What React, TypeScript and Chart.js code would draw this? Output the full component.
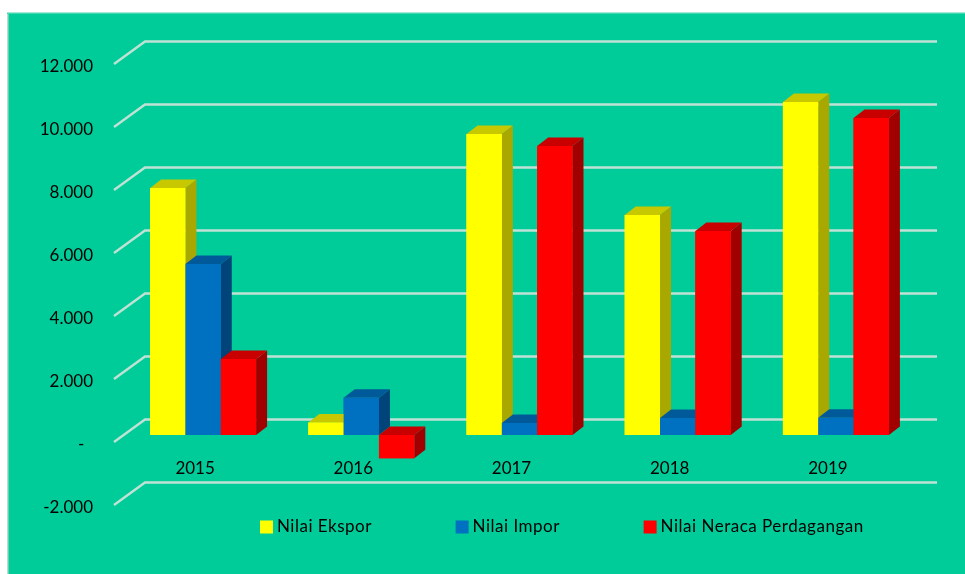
import React, { useEffect, useRef } from "react";
import { Chart, registerables } from "chart.js";

Chart.register(...registerables);

const categories = ["2015", "2016", "2017", "2018", "2019"];
const nilaiEkspor = [7840, 400, 9555, 6985, 10570];
const nilaiImpor = [5430, 1185, 380, 540, 550];
const nilaiNeraca = [2410, -740, 9175, 6475, 10060];
const seriesNames = ["Nilai Ekspor", "Nilai Impor", "Nilai Neraca Perdagangan"];
const frontColors = ["#FFFF00", "#0070C0", "#FF0000"];
const topColors = ["#C8C800", "#005A9A", "#C80000"];
const sideColors = ["#A8A800", "#00447A", "#A00000"];

const FONT = "Lato";
const DEPTH_X = 11;
const DEPTH_Y = 8.5;

const panelPlugin = {
  id: "panel",
  beforeDraw(chart: any) {
    const { ctx } = chart;
    ctx.save();
    ctx.fillStyle = "#00CC99";
    ctx.fillRect(8, 14, 957, 560);
    ctx.fillStyle = "#BFD9D0";
    ctx.fillRect(7, 14, 1.5, 560);
    ctx.fillStyle = "#45D5B0";
    ctx.fillRect(7, 12.5, 958, 1.5);
    ctx.restore();
    const lg = chart.legend;
    lg.left = 264.5 - lg.options.labels.padding;
    lg.right = 2000;
    lg.top = 518.5 - lg.options.labels.padding;
    lg.bottom = 574;
  },
};

const wallPlugin = {
  id: "wall",
  beforeLayout(chart: any) {
    const lg = chart.legend;
    if (lg && !lg.__wrapped) {
      const fit = lg.fit;
      const draw = lg.draw;
      lg.fit = function () {
        this.ctx.letterSpacing = "0.5px";
        fit.call(this);
        this.ctx.letterSpacing = "0px";
        this.height = 0;
      };
      lg.draw = function () {
        this.ctx.letterSpacing = "0.5px";
        draw.call(this);
        this.ctx.letterSpacing = "0px";
      };
      lg.__wrapped = true;
    }
  },
  beforeDatasetsDraw(chart: any) {
    const { ctx, chartArea, scales } = chart;
    ctx.save();
    ctx.strokeStyle = "#BFE2D5";
    ctx.lineWidth = 2.4;
    ctx.lineCap = "butt";
    for (const t of scales.y.ticks) {
      const y = scales.y.getPixelForValue(t.value);
      ctx.beginPath();
      ctx.moveTo(chartArea.left - 10, y + 7);
      ctx.lineTo(chartArea.left + 21, y - 15.5);
      ctx.lineTo(chartArea.right + 22, y - 15.5);
      ctx.stroke();
    }
    ctx.restore();
  },
  afterDatasetsDraw(chart: any) {
    const { ctx } = chart;
    chart.data.datasets.forEach((_: any, i: number) => {
      const meta = chart.getDatasetMeta(i);
      meta.data.forEach((bar: any) => {
        const p = bar.getProps(["x", "y", "base", "width"], true);
        const l = p.x - p.width / 2;
        const r = p.x + p.width / 2;
        const t = Math.min(p.y, p.base);
        const b = Math.max(p.y, p.base);
        ctx.save();
        ctx.fillStyle = sideColors[i];
        ctx.beginPath();
        ctx.moveTo(r, t);
        ctx.lineTo(r + DEPTH_X, t - DEPTH_Y);
        ctx.lineTo(r + DEPTH_X, b - DEPTH_Y);
        ctx.lineTo(r, b);
        ctx.closePath();
        ctx.fill();
        ctx.fillStyle = topColors[i];
        ctx.beginPath();
        ctx.moveTo(l, t);
        ctx.lineTo(l + DEPTH_X, t - DEPTH_Y);
        ctx.lineTo(r + DEPTH_X, t - DEPTH_Y);
        ctx.lineTo(r, t);
        ctx.closePath();
        ctx.fill();
        ctx.restore();
        bar.draw(ctx);
      });
    });
  },
};

export default function App() {
  const ref = useRef<HTMLCanvasElement | null>(null);
  useEffect(() => {
    const chart = new Chart(ref.current as HTMLCanvasElement, {
      type: "bar",
      data: {
        labels: categories,
        datasets: [nilaiEkspor, nilaiImpor, nilaiNeraca].map((values, i) => ({
          label: seriesNames[i],
          data: values,
          backgroundColor: frontColors[i],
          borderColor: frontColors[i],
          borderWidth: 0,
          barPercentage: 1,
          categoryPercentage: 0.67,
        })),
      },
      options: {
        responsive: false,
        animation: false,
        layout: { padding: { left: 0, top: 57, right: 50, bottom: 76 } },
        plugins: {
          tooltip: { enabled: false },
          title: { display: false },
          legend: {
            display: true,
            position: "bottom",
            align: "start",
            labels: {
              usePointStyle: true,
              pointStyle: "rect",
              boxWidth: 4,
              boxHeight: 13,
              padding: 88.2,
              color: "#000000",
              font: { family: FONT, size: 17 },
            },
          },
        },
        scales: {
          x: {
            position: { y: 0 },
            grid: { display: false, drawTicks: false },
            border: { display: false },
            ticks: {
              color: "#000000",
              padding: 23,
              labelOffset: -8,
              maxRotation: 0,
              font: { family: FONT, size: 17 },
            },
            afterFit: (s: any) => {
              s.height = 0;
            },
          },
          y: {
            min: -2000,
            max: 12000,
            grid: { display: false, drawTicks: false },
            border: { display: false },
            ticks: {
              stepSize: 2000,
              color: "#000000",
              padding: 31,
              labelOffset: 9.5,
              font: { family: FONT, size: 17 },
              callback: (v: any) =>
                v === 0 ? "-  " : String(v).replace(/\B(?=(\d{3})+$)/g, "."),
            },
            afterFit: (s: any) => {
              s.width = 124;
            },
          },
        },
      },
      plugins: [panelPlugin, wallPlugin],
    } as any);
    return () => chart.destroy();
  }, []);
  return (
    <div style={{ position: "absolute", left: 0, top: 0, width: 965, height: 574, background: "#FFFFFF" }}>
      <canvas ref={ref} width={965} height={574} style={{ display: "block" }} />
    </div>
  );
}
